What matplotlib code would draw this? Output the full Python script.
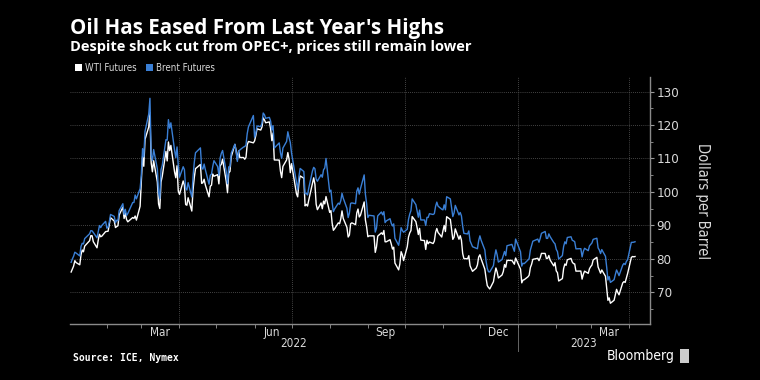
import numpy as np
import pandas as pd
import matplotlib
matplotlib.use("Agg")
import matplotlib.pyplot as plt
import matplotlib.dates as mdates
from matplotlib.patches import Patch, Rectangle

# Daily settlement prices, Jan 3 2022 - Apr 6 2023 (one line per month)
wti = [
    76.08, 76.99, 77.85, 79.46, 78.90, 78.23, 81.22, 82.64, 82.12, 83.82, 85.43, 86.96, 86.90, 85.14, 83.31, 85.60, 87.35, 86.61, 86.82, 88.15,
    88.20, 88.26, 90.27, 92.31, 91.32, 89.36, 89.66, 89.88, 93.10, 95.46, 92.07, 93.66, 91.76, 91.07, 92.35, 92.10, 92.81, 91.59, 95.72,
    103.41, 110.60, 107.67, 115.68, 119.40, 123.70, 108.70, 106.02, 109.33, 103.01, 96.44, 95.04, 102.98, 104.70, 112.12, 109.27, 114.93, 112.34, 113.90, 105.96, 104.24, 107.82, 100.28,
    99.27, 103.28, 101.96, 96.23, 96.03, 98.26, 94.29, 100.60, 104.25, 106.95, 108.21, 102.56, 102.75, 103.79, 102.07, 98.54, 101.70, 102.02, 105.36, 104.69,
    105.17, 102.41, 107.81, 108.26, 109.77, 103.09, 99.76, 105.71, 106.13, 110.49, 114.20, 112.40, 109.59, 112.21, 110.28, 110.29, 109.77, 110.33, 114.09, 115.07, 114.67,
    115.26, 116.87, 118.87, 118.50, 119.41, 122.11, 121.51, 120.67, 120.93, 118.93, 115.31, 117.59, 109.56, 109.52, 106.19, 104.27, 107.62, 109.57, 111.76, 109.78, 105.76,
    108.43, 99.50, 98.53, 102.73, 104.79, 104.09, 95.84, 96.30, 95.78, 97.59, 102.60, 104.22, 102.26, 96.35, 94.70, 96.70, 94.98, 97.26, 96.42, 98.62,
    93.89, 94.42, 90.66, 88.54, 89.01, 90.76, 90.50, 91.93, 94.34, 92.09, 89.41, 86.53, 87.11, 90.50, 90.77, 90.23, 93.74, 94.89, 92.52, 93.06, 97.01, 91.64, 89.55,
    86.61, 86.87, 86.88, 81.94, 83.54, 86.79, 87.78, 87.31, 88.48, 85.10, 85.11, 85.73, 84.45, 82.94, 83.49, 78.74, 76.71, 78.50, 82.15, 81.23, 79.49,
    83.63, 86.52, 87.76, 88.45, 92.64, 91.13, 89.35, 87.27, 89.11, 85.61, 85.46, 82.82, 85.55, 84.51, 85.05, 84.58, 85.32, 87.91, 89.08, 87.90, 86.53,
    88.37, 90.00, 88.17, 92.61, 91.79, 88.91, 85.83, 86.47, 88.96, 85.87, 86.92, 85.59, 81.64, 80.08, 80.04, 80.95, 77.94, 76.28, 77.24, 78.20, 80.55,
    81.22, 79.98, 76.93, 74.25, 72.01, 71.46, 71.02, 73.17, 75.39, 77.28, 76.11, 74.29, 75.19, 76.23, 78.29, 77.49, 79.56, 79.53, 78.96, 78.40, 80.26,
    76.93, 72.84, 73.67, 73.77, 74.63, 75.12, 77.41, 78.39, 79.86, 80.18, 79.48, 80.33, 81.64, 81.62, 80.13, 80.15, 81.01, 79.68, 77.90, 78.87,
    76.41, 75.88, 73.39, 74.11, 77.14, 78.47, 78.06, 79.72, 80.14, 79.06, 78.59, 78.49, 76.34, 76.36, 73.95, 75.39, 76.32, 75.68, 77.05,
    77.69, 78.16, 79.68, 80.46, 77.58, 76.66, 75.72, 76.68, 74.80, 71.33, 67.61, 68.35, 66.74, 67.64, 69.33, 70.90, 69.96, 69.26, 72.81, 73.20, 72.97, 74.37, 75.67,
    80.42, 80.71, 80.61, 80.70,
]
brent = [
    78.98, 80.00, 80.80, 81.99, 81.75, 80.87, 83.72, 84.67, 84.47, 86.06, 87.51, 88.44, 88.38, 87.89, 86.27, 88.20, 89.96, 89.34, 90.03, 91.21,
    89.16, 89.47, 91.11, 93.27, 92.69, 90.78, 91.55, 91.41, 94.44, 96.48, 93.28, 94.81, 92.97, 93.54, 96.84, 96.84, 99.08, 97.93, 100.99,
    104.97, 112.93, 110.46, 118.11, 123.21, 127.98, 111.14, 109.33, 112.67, 106.90, 99.91, 98.02, 106.64, 107.93, 115.62, 115.48, 121.60, 119.03, 120.65, 112.48, 110.23, 113.45, 107.91,
    104.39, 107.53, 106.64, 101.07, 100.58, 102.78, 98.48, 104.64, 108.78, 111.70, 113.16, 107.25, 106.80, 108.33, 106.65, 102.32, 104.99, 105.32, 107.59, 109.34,
    107.58, 104.97, 110.14, 111.55, 112.39, 105.94, 102.46, 107.51, 107.45, 111.55, 114.24, 111.93, 109.11, 112.04, 112.55, 113.42, 113.56, 114.03, 117.40, 119.43, 122.84,
    116.29, 117.61, 119.72, 119.51, 120.57, 123.58, 123.07, 122.01, 122.27, 121.17, 118.51, 119.81, 113.12, 114.65, 111.74, 110.05, 113.12, 115.09, 117.98, 116.26, 114.81,
    111.63, 102.77, 100.69, 104.65, 107.02, 106.10, 99.49, 99.57, 99.10, 101.16, 106.27, 107.35, 106.92, 103.86, 103.20, 105.15, 104.40, 106.62, 107.14, 110.01,
    100.03, 100.54, 96.78, 94.12, 94.92, 96.65, 96.31, 97.40, 99.60, 98.15, 95.10, 92.34, 93.65, 96.59, 96.72, 96.48, 100.22, 101.22, 99.34, 100.99, 105.09, 99.31, 96.49,
    92.36, 93.02, 92.83, 88.00, 89.15, 92.84, 94.00, 93.17, 94.10, 90.84, 91.35, 92.00, 90.62, 89.83, 90.46, 86.15, 84.06, 86.27, 89.32, 88.49, 87.96,
    88.86, 91.80, 93.37, 94.42, 97.92, 96.19, 94.29, 92.45, 94.57, 91.63, 91.62, 89.99, 92.41, 92.38, 93.50, 93.26, 93.52, 95.69, 96.96, 95.77, 94.83,
    94.65, 96.16, 94.67, 98.57, 97.92, 95.36, 92.65, 93.67, 95.99, 93.14, 93.86, 92.86, 89.78, 87.62, 87.45, 88.36, 85.41, 83.63, 83.19, 83.03, 85.43,
    86.88, 85.57, 82.68, 79.35, 77.17, 76.15, 76.10, 77.99, 80.68, 82.70, 81.21, 79.04, 79.80, 80.99, 82.20, 80.98, 83.92, 84.33, 83.26, 82.26, 85.91,
    82.10, 77.84, 78.69, 78.57, 79.65, 80.10, 82.67, 84.03, 85.28, 85.92, 84.98, 86.16, 87.63, 88.19, 86.13, 86.12, 87.47, 86.66, 84.90, 84.49,
    82.84, 82.17, 79.94, 80.99, 83.69, 85.09, 84.50, 86.39, 86.61, 85.58, 85.38, 85.14, 83.00, 83.05, 80.60, 82.21, 83.16, 82.45, 83.89,
    84.31, 84.75, 85.83, 86.18, 83.29, 82.66, 81.59, 82.78, 80.77, 77.45, 73.69, 74.70, 72.97, 73.79, 75.32, 76.69, 75.91, 74.99, 78.12, 78.65, 78.28, 79.27, 79.77,
    84.93, 84.94, 84.99, 85.12,
]
holidays = ["2022-01-17", "2022-02-21", "2022-04-15", "2022-05-30", "2022-06-20", "2022-07-04",
            "2022-09-05", "2022-11-24", "2022-12-26", "2023-01-02", "2023-01-16", "2023-02-20"]

month_labels = ["Mar", "Jun", "Sep", "Dec", "Mar"]
month_label_dates = ["2022-03-16", "2022-06-15", "2022-09-15", "2022-12-16", "2023-03-16"]
year_labels = ["2022", "2023"]
y_ticks = [70, 80, 90, 100, 110, 120, 130]

days = pd.bdate_range("2022-01-03", "2023-04-06")
days = days[~days.isin(pd.to_datetime(holidays))]
n = min(len(days), len(wti), len(brent))
days = days[:n]

BG = "#000000"
BLUE = "#3a7fd5"
TXT = "#d9d9d9"
GRID = "#5a5a5a"
plt.rcParams["font.family"] = ["Liberation Sans Narrow", "DejaVu Sans"]
plt.rcParams["font.stretch"] = "condensed"

fig = plt.figure(figsize=(7.6, 3.8), dpi=100, facecolor=BG)
ax = fig.add_axes([0.092, 0.147, 0.763, 0.650], facecolor=BG)

ax.plot(days, wti[:n], color="white", lw=1.0, zorder=3)
ax.plot(days, brent[:n], color=BLUE, lw=1.0, zorder=4)

x0, x1 = pd.Timestamp("2022-01-02"), pd.Timestamp("2023-04-18")
ax.set_xlim(x0, x1)
ax.set_ylim(60.5, 134.3)

# y axis on the right
ax.yaxis.tick_right()
ax.yaxis.set_label_position("right")
ax.set_yticks(y_ticks)
ax.set_yticks(np.arange(65, 135, 5), minor=True)
ax.tick_params(axis="y", which="major", colors="#999999", labelcolor=TXT, labelsize=9.5,
               length=3, width=0.8, pad=2)
ax.tick_params(axis="y", which="minor", colors="#999999", length=2, width=0.6)
ax.set_ylabel("Dollars per Barrel", color=TXT, fontsize=10.5, rotation=270, labelpad=22)

# x axis: month boundaries as minor ticks, labels mid-month
ax.xaxis.set_minor_locator(mdates.MonthLocator())
ax.set_xticks(pd.to_datetime(month_label_dates))
ax.set_xticklabels(month_labels)
ax.tick_params(axis="x", which="major", length=0, labelcolor=TXT, labelsize=8.5, pad=1.5)
ax.tick_params(axis="x", which="minor", colors="#999999", length=3, width=0.6)

for q in pd.to_datetime(["2022-04-01", "2022-07-01", "2022-10-01", "2023-01-01", "2023-04-01"]):
    ax.axvline(q, color=GRID, lw=0.6, ls=(0, (1, 1.5)), zorder=1)
for y in y_ticks:
    ax.axhline(y, color=GRID, lw=0.6, ls=(0, (1, 1.5)), zorder=1)

for s in ["top", "left"]:
    ax.spines[s].set_visible(False)
for s in ["right", "bottom"]:
    ax.spines[s].set_color("#8a8a8a")
    ax.spines[s].set_linewidth(1.0)

# year labels and separator
jan23 = pd.Timestamp("2023-01-01")
y_mid1 = x0 + (jan23 - x0) / 2
y_mid2 = jan23 + (x1 - jan23) / 2
tr = ax.get_xaxis_transform()
ax.text(y_mid1, -0.078, year_labels[0], transform=tr, ha="center", va="center", color=TXT, fontsize=8.5)
ax.text(y_mid2, -0.078, year_labels[1], transform=tr, ha="center", va="center", color=TXT, fontsize=8.5)
ax.plot([jan23, jan23], [-0.016, -0.108], transform=tr, color="#666666", lw=0.7, clip_on=False)

# titles
fig.text(0.092, 0.925, "Oil Has Eased From Last Year's Highs", color="white", fontsize=14.8,
         fontweight="bold", fontstretch="normal", family=["Open Sans", "DejaVu Sans"], va="center")
fig.text(0.092, 0.876, "Despite shock cut from OPEC+, prices still remain lower", color="white",
         fontsize=10.5, fontweight="bold", fontstretch="normal", family=["Open Sans", "DejaVu Sans"],
         va="center")

handles = [Patch(facecolor="white", edgecolor="none"), Patch(facecolor=BLUE, edgecolor="none")]
fig.legend(handles, ["WTI Futures", "Brent Futures"], loc="center left",
           bbox_to_anchor=(0.092, 0.821), ncol=2, frameon=False, fontsize=7,
           labelcolor=TXT, handlelength=0.7, handleheight=0.7, handletextpad=0.3,
           columnspacing=1.0, borderpad=0)

fig.text(0.096, 0.058, "Source: ICE, Nymex", color="white", fontsize=7, fontweight="bold",
         family=["DejaVu Sans Mono", "DejaVu Sans"], va="center")
fig.text(0.888, 0.063, "Bloomberg", color="white", fontsize=10, ha="right", va="center")
fig.patches.append(Rectangle((0.895, 0.045), 0.012, 0.036, transform=fig.transFigure,
                             facecolor="#cccccc", edgecolor="none"))

fig.savefig("out.png", dpi=100, facecolor=BG)
